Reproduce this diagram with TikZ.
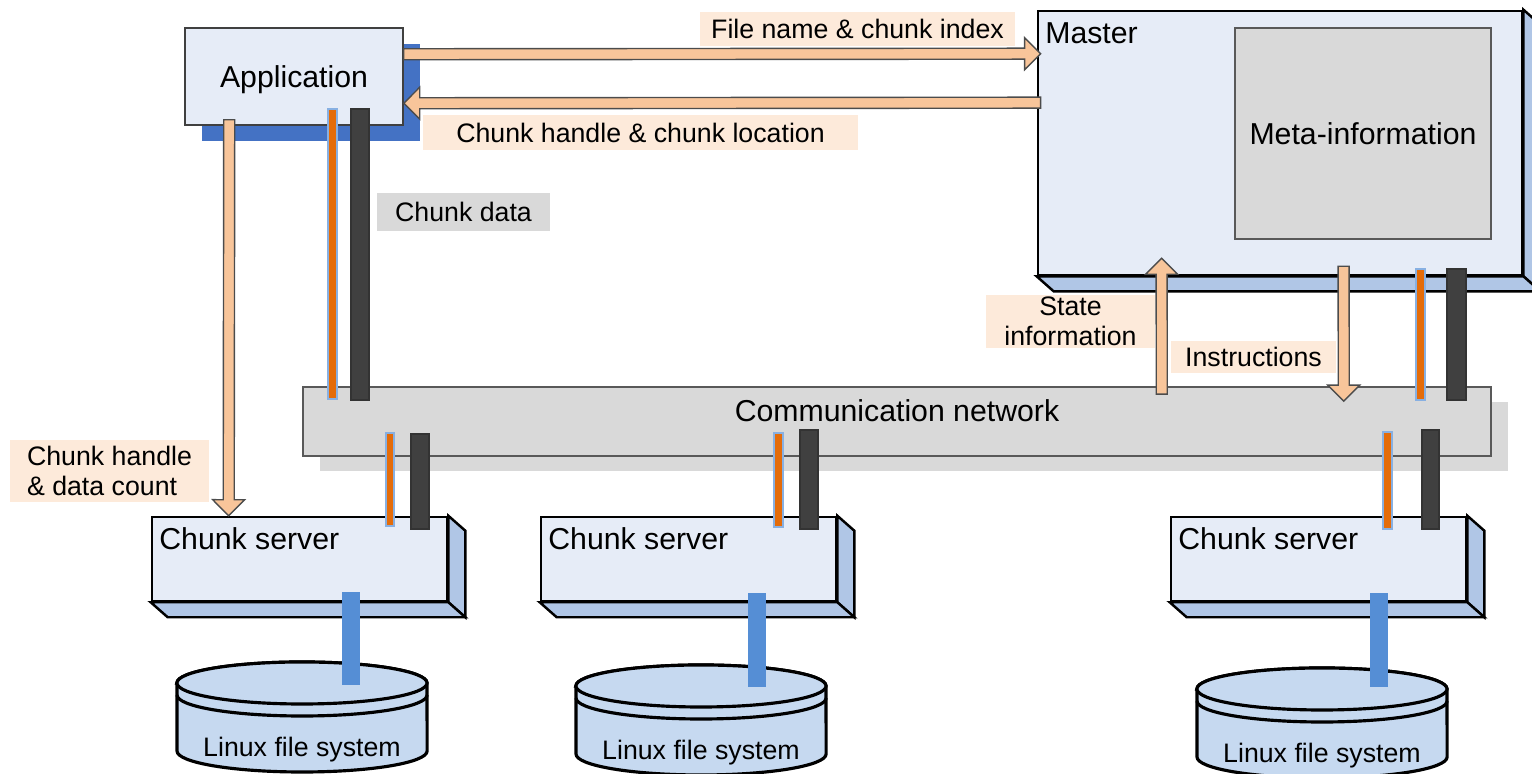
\documentclass[tikz,border=0pt]{standalone}
\usepackage{fontspec}
\setmainfont{Liberation Sans}
\usetikzlibrary{calc,shadows}
\definecolor{boxblue}{HTML}{E6ECF7}
\definecolor{sideblue}{HTML}{B0C6E6}
\definecolor{appshade}{HTML}{4472C4}
\definecolor{netgray}{HTML}{D9D9D9}
\definecolor{peach}{HTML}{F8C59A}
\definecolor{tagfill}{HTML}{FDEADA}
\definecolor{ctrlorange}{HTML}{E46C0A}
\definecolor{datadark}{HTML}{404040}
\definecolor{diskblue}{HTML}{C6D9F0}
\definecolor{linkblue}{HTML}{558ED5}
\newcommand{\namefont}{\fontsize{8.6}{10}\selectfont}
\newcommand{\tagfont}{\fontsize{7.6}{8.4}\selectfont}
\tikzset{
box/.style={
  draw,
  line width=0.7pt,
  fill=boxblue,
  inner sep=0pt
  },
side/.style={draw, line width=0.7pt, fill=sideblue},
graybox/.style={draw=black!65, line width=0.5pt, fill=netgray, inner sep=0pt},
tag/.style={fill=tagfill, inner sep=0pt, align=center, font=\tagfont},
fat/.style={draw=black!70, line width=0.4pt, fill=peach},
ctrl/.style={draw=linkblue!70, line width=0.3pt, fill=ctrlorange},
data/.style={draw=black!80, line width=0.3pt, fill=datadark},
disk/.style={draw, line width=0.9pt, fill=diskblue}
}
% block arrow: tail, tip
\newcommand{\fatarrow}[2]{%
  \coordinate (fatbase) at ($(#2)!0.16cm!(#1)$);
  \filldraw[fat] ($(#1)!0.055cm!90:(#2)$) -- ($(fatbase)!0.055cm!90:(#2)$)
    -- ($(fatbase)!0.16cm!90:(#2)$) -- (#2) -- ($(fatbase)!0.16cm!-90:(#2)$)
    -- ($(fatbase)!0.055cm!-90:(#2)$) -- ($(#1)!0.055cm!-90:(#2)$) -- cycle;}
% right and bottom faces of a box
\newcommand{\sidefaces}[1]{%
  \filldraw[side] (#1.north east) -- ++(17,15) -- ($(#1.south east)+(17,15)$) -- (#1.south east) -- cycle;
  \filldraw[side] (#1.south west) -- ($(#1.south west)+(17,15)$) -- ($(#1.south east)+(17,15)$) -- (#1.south east) -- cycle;}
% disk: name, centre x, top y
\newcommand{\linuxdisk}[3]{%
  \filldraw[disk] (#2-125,#3) -- (#2-125,#3+68)
    arc[start angle=180, end angle=360, x radius=1.25cm, y radius=0.21cm]
    -- (#2+125,#3) arc[start angle=0, end angle=180, x radius=1.25cm, y radius=0.21cm] -- cycle;
  \filldraw[disk] (#2,#3) ellipse[x radius=1.25cm, y radius=0.21cm];
  \draw[disk, fill=none] (#2-125,#3+12) arc[start angle=180, end angle=360, x radius=1.25cm, y radius=0.21cm];
  \node[font=\tagfont, anchor=base, inner sep=0pt] (#1) at (#2,#3+74) {Linux file system};}

\begin{document}
\begin{tikzpicture}[x=0.01cm, y=-0.01cm]
\useasboundingbox (0,0) rectangle (1532,774);

% network
\node[graybox, general shadow={fill=netgray, shadow xshift=0.17cm, shadow yshift=-0.15cm},
  minimum width=11.88cm, minimum height=0.69cm] (net) at (897,421.5) {};
\node[font=\namefont, anchor=base, inner sep=0pt] (netname) at ($(net.north)+(0,35)$) {Communication network};

% application and master
\node[box, draw=black!75, line width=0.4pt, text depth=0pt,
  general shadow={fill=appshade, shadow xshift=0.17cm, shadow yshift=-0.16cm},
  minimum width=2.18cm, minimum height=0.97cm, font=\namefont] (app) at (294,76.5) {Application};
\node[box, minimum width=4.84cm, minimum height=2.64cm] (master) at (1280,143) {};
\sidefaces{master}
\node[font=\namefont, anchor=base west, inner sep=0pt] (mastername) at ($(master.north west)+(8,34)$) {Master};
\node[graybox, minimum width=2.56cm, minimum height=2.11cm, font=\namefont] (meta) at (1363,133.5) {Meta-information};

% chunk servers
\foreach \n/\cx in {1/299.5, 2/688.5, 3/1318.5}{
  \node[box, minimum width=2.95cm, minimum height=0.84cm] (cs\n) at (\cx,559) {};
  \sidefaces{cs\n}
  \node[font=\namefont, anchor=base west, inner sep=0pt] (csname\n) at ($(cs\n.north west)+(8,34)$) {Chunk server};
}

% disks
\linuxdisk{disk1}{302}{683}
\linuxdisk{disk2}{701}{686}
\linuxdisk{disk3}{1322}{689}
\fill[linkblue] (342,592) rectangle (360,685);
\fill[linkblue] (748,593) rectangle (766,687);
\fill[linkblue] (1370,593) rectangle (1388,687);

% block arrows
\coordinate (askfrom) at ($(app.north east)+(0,27)$);
\coordinate (askto) at ($(master.north west)+(4,44)$);
\coordinate (replyfrom) at ($(master.north west)+(4,93)$);
\coordinate (replyto) at ($(app.north east)+(0,76)$);
\coordinate (readfrom) at ($(app.south west)+(45,-6)$);
\coordinate (readto) at ($(cs1.north west)+(78,0)$);
\coordinate (statefrom) at ($(net.north west)+(860,8)$);
\coordinate (stateto) at ($(master.south west)+(125,-18)$);
\coordinate (orderfrom) at ($(master.south west)+(307,-10)$);
\coordinate (orderto) at ($(net.north west)+(1042,15)$);
\fatarrow{askfrom}{askto}
\fatarrow{replyfrom}{replyto}
\fatarrow{readfrom}{readto}
\fatarrow{statefrom}{stateto}
\fatarrow{orderfrom}{orderto}

% control and data links
\draw[ctrl] (328,109) rectangle (337,399);
\draw[data] (351,109) rectangle (369,400);
\draw[ctrl] (1416,269) rectangle (1425,400);
\draw[data] (1447,269) rectangle (1466,400);
\draw[ctrl] (386,433) rectangle (394,526);
\draw[data] (411,434) rectangle (429,529);
\draw[ctrl] (774,433) rectangle (783,527);
\draw[data] (800,430) rectangle (818,529);
\draw[ctrl] (1383,432) rectangle (1392,529);
\draw[data] (1422,430) rectangle (1439,529);

% labels
\node[tag, minimum width=3.15cm, minimum height=0.34cm] (asktag) at (857.5,29) {File name \& chunk index};
\node[tag, minimum width=4.35cm, minimum height=0.35cm] (replytag) at (640.5,132.5) {Chunk handle \& chunk location};
\node[tag, fill=netgray, minimum width=1.73cm, minimum height=0.38cm] (datatag) at (463.5,212) {Chunk data};
\node[tag, minimum width=1.69cm, minimum height=0.53cm] (statetag) at (1070.5,321.5) {State\\information};
\node[tag, minimum width=1.65cm, minimum height=0.32cm] (ordertag) at (1253.5,357) {Instructions};
\node[tag, align=left, minimum width=1.99cm, minimum height=0.62cm] (readtag) at (109.5,471) {Chunk handle\\\& data count};
\end{tikzpicture}
\end{document}
